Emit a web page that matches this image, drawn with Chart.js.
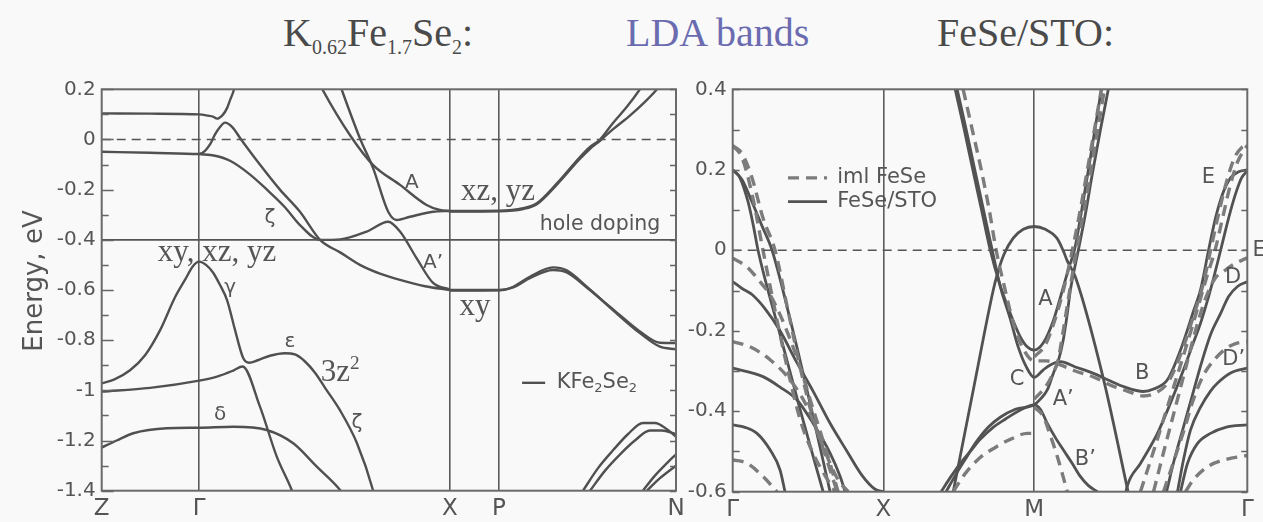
<!DOCTYPE html>
<html>
<head>
<meta charset="utf-8">
<script src="https://cdn.jsdelivr.net/npm/chart.js@4.4.1/dist/chart.umd.min.js"></script>
<style>
html,body{margin:0;padding:0;width:1263px;height:522px;overflow:hidden;background:#f9f9f9;}
.layer{position:absolute;left:0;top:0;}
.ttl{position:absolute;top:13px;font-family:"Liberation Serif","Times New Roman",serif;font-size:40px;line-height:1;color:#4a4a4a;white-space:nowrap;}
.ttl sub{font-size:0.5em;vertical-align:-0.38em;line-height:0;}
</style>
</head>
<body>
<div class="ttl" style="left:283px">K<sub>0.62</sub>Fe<sub>1.7</sub>Se<sub>2</sub>:</div>
<div class="ttl" style="left:626px;color:#6b6bb0">LDA bands</div>
<div class="ttl" style="left:937px">FeSe/STO:</div>
<canvas id="cL" class="layer" width="1263" height="522"></canvas>
<canvas id="cR" class="layer" width="1263" height="522"></canvas>
<script>
// ================= LEFT PANEL: K0.62Fe1.7Se2 (k in units of the Γ–X length) =================
const leftKPoints = [0, 0.389, 1.389, 1.585, 2.291];
const leftKLabels = ['Z', 'Γ', 'X', 'P', 'N'];
const leftETicks = [-1.4, -1.2, -1, -0.8, -0.6, -0.4, -0.2, 0, 0.2];
const leftFermi = [[0, 0], [2.291, 0]];
const leftDopingLevel = [[0, -0.4], [2.291, -0.4]];

const lTop = [[0,0.104],[0.193,0.103],[0.389,0.100],[0.424,0.095],[0.444,0.091],[0.460,0.083],[0.483,0.098],[0.500,0.125],[0.512,0.157],[0.528,0.2],[0.536,0.24]];
const lHoleA = [[0,-0.049],[0.193,-0.053],[0.389,-0.058],[0.412,-0.045],[0.432,-0.02],[0.452,0.02],[0.472,0.05],[0.492,0.067],[0.520,0.05],[0.556,0.0],[0.631,-0.1],[0.711,-0.2],[0.791,-0.288],[0.871,-0.4],[0.951,-0.45],[1.030,-0.5],[1.110,-0.535],[1.190,-0.56],[1.290,-0.585],[1.389,-0.6]];
const lZeta = [[0.389,-0.058],[0.452,-0.065],[0.512,-0.085],[0.592,-0.14],[0.659,-0.2],[0.731,-0.27],[0.791,-0.341],[0.871,-0.4],[0.951,-0.398],[1.057,-0.367],[1.143,-0.328],[1.190,-0.367],[1.256,-0.473],[1.322,-0.572],[1.389,-0.598]];
const lBandA = [[0.86,0.24],[0.878,0.204],[0.990,0.018],[1.083,-0.102],[1.190,-0.181],[1.296,-0.261],[1.349,-0.281],[1.389,-0.285]];
const lBandA2 = [[0.95,0.22],[0.957,0.2],[1.030,0.005],[1.083,-0.115],[1.143,-0.288],[1.177,-0.321],[1.230,-0.308],[1.322,-0.288],[1.389,-0.285]];
const lXzYz1 = [[1.389,-0.285],[1.585,-0.284],[1.681,-0.274],[1.736,-0.254],[1.816,-0.175],[1.908,-0.07],[1.948,-0.03],[1.988,0.0],[2.039,0.065],[2.095,0.13],[2.147,0.2],[2.16,0.22]];
const lXzYz2 = [[1.389,-0.287],[1.585,-0.286],[1.681,-0.277],[1.736,-0.258],[1.816,-0.18],[1.908,-0.077],[1.948,-0.037],[1.988,-0.005],[2.039,0.04],[2.107,0.095],[2.167,0.15],[2.215,0.2],[2.23,0.22]];
const lXy1 = [[1.389,-0.6],[1.585,-0.6],[1.642,-0.587],[1.708,-0.547],[1.800,-0.51],[1.855,-0.522],[1.935,-0.587],[2.039,-0.68],[2.147,-0.772],[2.227,-0.826],[2.291,-0.836]];
const lXy2 = [[1.389,-0.602],[1.585,-0.601],[1.642,-0.59],[1.708,-0.553],[1.800,-0.52],[1.855,-0.53],[1.935,-0.59],[2.039,-0.676],[2.147,-0.765],[2.227,-0.81],[2.291,-0.811]];
const lGamma = [[0,-0.972],[0.053,-0.955],[0.113,-0.92],[0.173,-0.86],[0.233,-0.76],[0.292,-0.63],[0.332,-0.56],[0.364,-0.505],[0.389,-0.487],[0.416,-0.50],[0.444,-0.53],[0.472,-0.58],[0.500,-0.64],[0.532,-0.76],[0.564,-0.87],[0.588,-0.89],[0.623,-0.88],[0.671,-0.862],[0.731,-0.852],[0.771,-0.857],[0.811,-0.885],[0.851,-0.93],[0.891,-0.99],[0.951,-1.08],[1.018,-1.21],[1.083,-1.4],[1.09,-1.43]];
const lBand3z2 = [[0,-1.005],[0.193,-0.99],[0.389,-0.961],[0.460,-0.945],[0.525,-0.921],[0.562,-0.905],[0.631,-1.064],[0.698,-1.263],[0.758,-1.397],[0.77,-1.43]];
const lDelta = [[0,-1.228],[0.06,-1.2],[0.126,-1.171],[0.259,-1.151],[0.389,-1.149],[0.525,-1.145],[0.658,-1.158],[0.764,-1.211],[0.858,-1.304],[0.951,-1.397],[0.96,-1.41]];
const lN1 = [[1.920,-1.4],[1.980,-1.31],[2.039,-1.24],[2.099,-1.175],[2.159,-1.13],[2.207,-1.13],[2.255,-1.155],[2.291,-1.185]];
const lN2 = [[1.948,-1.4],[2.008,-1.32],[2.068,-1.255],[2.127,-1.2],[2.187,-1.16],[2.235,-1.16],[2.291,-1.175]];
const lN3 = [[2.159,-1.4],[2.207,-1.34],[2.255,-1.29],[2.291,-1.255]];
const lN4 = [[2.175,-1.4],[2.227,-1.35],[2.291,-1.3]];

// ================= RIGHT PANEL: FeSe/STO vs iml FeSe (k in units of π/a) =================
const rightKPoints = [0, 1, 2, 3.414];
const rightKLabels = ['Γ', 'X', 'M', 'Γ'];
const rightETicks = [-0.6, -0.4, -0.2, 0, 0.2, 0.4];
const rightFermi = [[0, 0], [3.414, 0]];

// FeSe/STO (solid)
const sHole1 = [[0,0.2],[0.048,0.18],[0.102,0.12],[0.135,0.065],[0.168,0],[0.3,-0.19],[0.45,-0.4],[0.6,-0.6]];
const sHole2 = [[0,0.2],[0.062,0.175],[0.128,0.12],[0.195,0.06],[0.261,0.0],[0.38,-0.17],[0.513,-0.38],[0.646,-0.6]];
const sXyGX = [[0,-0.078],[0.062,-0.095],[0.128,-0.11],[0.214,-0.145],[0.314,-0.2],[0.427,-0.28],[0.533,-0.35],[0.646,-0.43],[0.759,-0.5],[0.859,-0.56],[0.945,-0.594],[1.0,-0.6]];
const sDeep1GX = [[0,-0.293],[0.201,-0.314],[0.314,-0.34],[0.427,-0.372],[0.533,-0.43],[0.646,-0.504],[0.713,-0.562],[0.746,-0.6]];
const sDeep2GX = [[0,-0.434],[0.082,-0.44],[0.161,-0.455],[0.248,-0.496],[0.314,-0.546],[0.347,-0.6]];
const sBandA = [[1.476,0.4],[1.536,0.3],[1.593,0.2],[1.651,0.1],[1.709,0.0],[1.768,-0.08],[1.834,-0.15],[1.901,-0.21],[1.954,-0.24],[2.0,-0.248],[2.061,-0.23],[2.127,-0.175],[2.187,-0.1],[2.233,-0.04],[2.267,0.0],[2.32,0.11],[2.373,0.23],[2.42,0.34],[2.446,0.4]];
const sBandCB = [[1.489,0.4],[1.549,0.3],[1.606,0.2],[1.664,0.1],[1.722,0.0],[1.775,-0.09],[1.841,-0.17],[1.894,-0.24],[1.948,-0.29],[2.0,-0.316],[2.061,-0.297],[2.107,-0.285],[2.174,-0.277],[2.273,-0.29],[2.393,-0.306],[2.506,-0.325],[2.594,-0.339],[2.725,-0.351],[2.792,-0.345],[2.884,-0.322],[2.971,-0.248],[3.06,-0.148],[3.104,-0.098],[3.157,0],[3.203,0.08],[3.25,0.14],[3.303,0.18],[3.356,0.195],[3.414,0.2]];
const sBandA1 = [[1.416,-0.6],[1.476,-0.56],[1.542,-0.52],[1.609,-0.48],[1.695,-0.44],[1.775,-0.415],[1.875,-0.395],[2.0,-0.384],[2.041,-0.37],[2.087,-0.347],[2.127,-0.306],[2.16,-0.275],[2.193,-0.223],[2.22,-0.157],[2.24,-0.1],[2.26,-0.06],[2.293,0.0],[2.34,0.09],[2.386,0.19],[2.44,0.3],[2.492,0.4]];
const sBandB1 = [[1.383,-0.6],[1.443,-0.565],[1.509,-0.53],[1.576,-0.5],[1.642,-0.47],[1.728,-0.44],[1.808,-0.42],[1.908,-0.397],[2.0,-0.384],[2.041,-0.395],[2.087,-0.43],[2.140,-0.465],[2.193,-0.496],[2.253,-0.53],[2.306,-0.562],[2.36,-0.585],[2.42,-0.6]];
const sBandM = [[1.463,-0.6],[1.6,-0.34],[1.728,-0.1],[1.755,-0.06],[1.80,-0.01],[1.861,0.03],[1.928,0.052],[2.0,0.059],[2.074,0.052],[2.151,0.03],[2.195,-0.003],[2.218,-0.025],[2.273,-0.066],[2.461,-0.322],[2.616,-0.588],[2.64,-0.63]];
const sHoleMG = [[2.6,-0.62],[2.616,-0.588],[2.705,-0.53],[2.818,-0.455],[2.904,-0.38],[2.991,-0.297],[3.051,-0.235],[3.104,-0.181],[3.170,-0.098],[3.237,0.0],[3.29,0.08],[3.336,0.14],[3.376,0.18],[3.414,0.197]];
const sBandD = [[2.878,-0.6],[2.93,-0.52],[2.99,-0.44],[3.05,-0.36],[3.11,-0.28],[3.17,-0.21],[3.237,-0.157],[3.29,-0.115],[3.349,-0.09],[3.414,-0.078]];
const sBandD1 = [[2.951,-0.6],[2.991,-0.52],[3.037,-0.447],[3.104,-0.39],[3.17,-0.35],[3.217,-0.33],[3.303,-0.305],[3.414,-0.293]];
const sDeepMG = [[2.971,-0.6],[3.017,-0.53],[3.084,-0.48],[3.17,-0.455],[3.27,-0.44],[3.414,-0.434]];

// iml FeSe (dashed)
const dHole1 = [[0,0.26],[0.062,0.23],[0.128,0.14],[0.201,0.0],[0.281,-0.15],[0.367,-0.3],[0.447,-0.42],[0.527,-0.5],[0.613,-0.56],[0.679,-0.6]];
const dHole2 = [[0,0.26],[0.062,0.24],[0.128,0.18],[0.201,0.08],[0.281,0.0],[0.367,-0.15],[0.447,-0.29],[0.527,-0.41],[0.613,-0.5],[0.699,-0.57],[0.766,-0.6]];
const dXyGX = [[0,-0.02],[0.093,-0.041],[0.181,-0.078],[0.248,-0.111],[0.314,-0.16],[0.380,-0.22],[0.447,-0.29],[0.513,-0.37],[0.580,-0.45],[0.646,-0.53],[0.699,-0.6]];
const dDeep1GX = [[0,-0.227],[0.115,-0.24],[0.248,-0.272],[0.380,-0.322],[0.493,-0.389],[0.580,-0.471],[0.646,-0.546],[0.693,-0.6]];
const dDeep2GX = [[0,-0.521],[0.093,-0.529],[0.201,-0.562],[0.294,-0.6]];
const dBandCB = [[1.529,0.4],[1.589,0.3],[1.649,0.2],[1.702,0.1],[1.748,0.0],[1.802,-0.09],[1.861,-0.18],[1.921,-0.24],[2.0,-0.275],[2.08,-0.275],[2.174,-0.285],[2.273,-0.3],[2.393,-0.315],[2.506,-0.335],[2.618,-0.35],[2.725,-0.362],[2.792,-0.357],[2.884,-0.33],[2.971,-0.26],[3.06,-0.16],[3.124,-0.08],[3.17,0.0],[3.223,0.09],[3.276,0.17],[3.329,0.23],[3.376,0.255],[3.414,0.261]];
const dBandA = [[2.0,-0.265],[2.074,-0.235],[2.14,-0.17],[2.2,-0.09],[2.253,0.0],[2.306,0.1],[2.353,0.2],[2.4,0.3],[2.446,0.4]];
const dBandA1 = [[2.0,-0.37],[2.074,-0.34],[2.12,-0.31],[2.16,-0.27],[2.193,-0.2],[2.227,-0.12],[2.267,-0.03],[2.306,0.05],[2.36,0.16],[2.413,0.28],[2.466,0.4]];
const dBandB1 = [[2.0,-0.39],[2.061,-0.413],[2.107,-0.46],[2.154,-0.513],[2.22,-0.6]];
const dHumpM = [[1.463,-0.6],[1.542,-0.555],[1.642,-0.515],[1.742,-0.49],[1.841,-0.47],[1.954,-0.455],[2.0,-0.455]];
const dHoleMG = [[2.705,-0.6],[2.8,-0.49],[2.9,-0.37],[3.0,-0.25],[3.08,-0.15],[3.15,-0.06],[3.2,0.0],[3.25,0.08],[3.3,0.16],[3.35,0.22],[3.414,0.261]];
const dBandD = [[2.792,-0.6],[2.86,-0.5],[2.93,-0.4],[3.0,-0.3],[3.07,-0.2],[3.137,-0.12],[3.2,-0.07],[3.256,-0.053],[3.323,-0.035],[3.414,-0.019]];
const dBandD1 = [[2.858,-0.6],[2.93,-0.52],[3.0,-0.44],[3.057,-0.37],[3.124,-0.31],[3.2,-0.27],[3.27,-0.245],[3.336,-0.232],[3.414,-0.227]];
const dDeepMG = [[3.004,-0.6],[3.057,-0.57],[3.15,-0.538],[3.27,-0.52],[3.414,-0.51]];

// ================= styling & helpers =================
const SANS = '"DejaVu Sans", Verdana, sans-serif';
const SERIF = '"Liberation Serif", "Times New Roman", serif';
const INK = '#505050';

function pts(a){ return a.map(p => ({x: p[0], y: p[1]})); }
function band(a, style){
  return Object.assign({data: pts(a), pointRadius: 0, fill: false, cubicInterpolationMode: 'monotone',
    borderColor: INK, borderWidth: 2.4, borderCapStyle: 'butt'}, style || {});
}

function drawRich(ctx, parts, x, y, size, family, align, color){
  ctx.fillStyle = color || '#555';
  ctx.textBaseline = 'middle';
  ctx.textAlign = 'left';
  const segs = parts.map(p => {
    const s = p[1] ? size * 0.62 : size;
    ctx.font = s + 'px ' + family;
    return {t: p[0], s: s, w: ctx.measureText(p[0]).width, m: p[1]};
  });
  const W = segs.reduce((a, s) => a + s.w, 0);
  let cx = align === 'center' ? x - W / 2 : (align === 'right' ? x - W : x);
  segs.forEach(s => {
    ctx.font = s.s + 'px ' + family;
    const dy = s.m === 'sub' ? size * 0.32 : (s.m === 'sup' ? -size * 0.3 : 0);
    ctx.fillText(s.t, cx, y + dy);
    cx += s.w;
  });
}

// annotation lists (label anchors are given in axis coordinates)
const leftNotes = [
  {p: [['xy, xz, yz']], k: 0.46, e: -0.452, size: 31, fam: SERIF},
  {p: [['γ']], k: 0.512, e: -0.592, size: 20, fam: SANS},
  {p: [['ζ']], k: 0.671, e: -0.313, size: 20, fam: SANS},
  {p: [['ε']], k: 0.751, e: -0.807, size: 20, fam: SANS},
  {p: [['3z'], ['2', 'sup']], k: 0.951, e: -0.93, size: 31, fam: SERIF},
  {p: [['ζ']], k: 1.018, e: -1.13, size: 20, fam: SANS},
  {p: [['δ']], k: 0.472, e: -1.098, size: 20, fam: SANS},
  {p: [['A']], k: 1.237, e: -0.173, size: 20, fam: SANS},
  {p: [['A’']], k: 1.322, e: -0.492, size: 20, fam: SANS},
  {p: [['xz, yz']], k: 1.581, e: -0.209, size: 31, fam: SERIF},
  {p: [['hole doping']], k: 1.988, e: -0.341, size: 20.5, fam: SANS},
  {p: [['xy']], k: 1.489, e: -0.668, size: 31, fam: SERIF},
  {p: [['KFe'], ['2', 'sub'], ['Se'], ['2', 'sub']], k: 1.815, e: -0.968, size: 21, fam: SANS, align: 'left'}
];
const rightNotes = [
  {p: [['iml FeSe']], k: 0.693, e: 0.18, size: 21, fam: SANS, align: 'left'},
  {p: [['FeSe/STO']], k: 0.693, e: 0.121, size: 21, fam: SANS, align: 'left'},
  {p: [['A']], k: 2.074, e: -0.123, size: 21, fam: SANS},
  {p: [['C']], k: 1.886, e: -0.322, size: 21, fam: SANS},
  {p: [['A’']], k: 2.193, e: -0.372, size: 21, fam: SANS},
  {p: [['B']], k: 2.716, e: -0.306, size: 21, fam: SANS},
  {p: [['B’']], k: 2.339, e: -0.521, size: 21, fam: SANS},
  {p: [['E']], k: 3.156, e: 0.18, size: 21, fam: SANS},
  {p: [['D']], k: 3.32, e: -0.069, size: 21, fam: SANS},
  {p: [['D’']], k: 3.324, e: -0.272, size: 21, fam: SANS},
  {p: [['E']], k: 3.448, e: 0.0, size: 21, fam: SANS, align: 'left'}
];

function decorPlugin(id, notes, tickCfg, extra){
  return {
    id: id,
    afterDatasetsDraw(chart){
      const {ctx, chartArea: a, scales: {x, y}} = chart;
      ctx.save();
      // frame
      ctx.strokeStyle = '#6a6a6a'; ctx.lineWidth = 2;
      ctx.strokeRect(a.left, a.top, a.right - a.left, a.bottom - a.top);
      // inner tick marks every 0.1 eV
      ctx.strokeStyle = '#666'; ctx.lineWidth = 1.6;
      const n0 = Math.round(y.min * 10), n1 = Math.round(y.max * 10);
      for (let n = n0; n <= n1; n++){
        const py = Math.round(y.getPixelForValue(n / 10)) + 0.5;
        const major = n % 2 === 0;
        const L = major ? tickCfg.leftMajor : tickCfg.leftMinor;
        const R = major ? tickCfg.rightMajor : tickCfg.rightMinor;
        ctx.beginPath();
        ctx.moveTo(a.left, py); ctx.lineTo(a.left + L, py);
        ctx.moveTo(a.right, py); ctx.lineTo(a.right - R, py);
        ctx.stroke();
      }
      // text annotations
      notes.forEach(nt => {
        drawRich(ctx, nt.p, x.getPixelForValue(nt.k), y.getPixelForValue(nt.e), nt.size, nt.fam, nt.align || 'center', '#555');
      });
      if (extra) extra(chart, ctx, a, x, y);
      ctx.restore();
    }
  };
}

function makeScales(kPts, kLabels, eTicks, emin, emax, yW){
  return {
    x: {
      type: 'linear', min: kPts[0], max: kPts[kPts.length - 1],
      afterBuildTicks: s => { s.ticks = kPts.map(v => ({value: v})); },
      afterFit: s => { s.height = 30; },
      ticks: {autoSkip: false, maxRotation: 0, padding: 5, color: '#555',
        font: {family: SANS, size: 23}, callback: (v, i) => kLabels[i]},
      grid: {drawTicks: false, lineWidth: 1.6,
        color: c => (c.index === 0 || c.index === kPts.length - 1) ? 'rgba(0,0,0,0)' : '#5c5c5c'},
      border: {display: false}
    },
    y: {
      type: 'linear', min: emin, max: emax,
      afterBuildTicks: s => { s.ticks = eTicks.map(v => ({value: v})); },
      afterFit: s => { s.width = yW; },
      ticks: {padding: 6, color: '#555', font: {family: SANS, size: 20},
        callback: v => (Math.abs(v) < 1e-9 ? '0' : String(Math.round(v * 10) / 10))},
      grid: {display: false, drawTicks: false},
      border: {display: false}
    }
  };
}

const commonOpts = {
  responsive: false, animation: false, devicePixelRatio: 1,
  plugins: {legend: {display: false}, tooltip: {enabled: false}, title: {display: false}},
  elements: {line: {tension: 0}}
};

// ---------------- left chart ----------------
const leftBands = [lTop, lHoleA, lZeta, lBandA, lBandA2, lXzYz1, lXzYz2, lXy1, lXy2, lGamma, lBand3z2, lDelta, lN1, lN2, lN3, lN4];
new Chart(document.getElementById('cL'), {
  type: 'line',
  data: {datasets: [
    band(leftFermi, {borderDash: [9, 6], borderWidth: 1.5, borderColor: '#555', cubicInterpolationMode: 'default'}),
    band(leftDopingLevel, {borderWidth: 1.6, borderColor: '#555', cubicInterpolationMode: 'default'})
  ].concat(leftBands.map(b => band(b)))},
  options: Object.assign({}, commonOpts, {
    layout: {padding: {left: 41.7, right: 587, top: 89.3, bottom: 1.3}},
    scales: makeScales(leftKPoints, leftKLabels, leftETicks, -1.4, 0.2, 60)
  }),
  plugins: [decorPlugin('decorL', leftNotes, {leftMajor: 12, leftMinor: 7, rightMajor: 6, rightMinor: 6},
    (chart, ctx, a, x, y) => {
      // legend line for KFe2Se2
      ctx.strokeStyle = INK; ctx.lineWidth = 2.4;
      const py = y.getPixelForValue(-0.97);
      ctx.beginPath(); ctx.moveTo(x.getPixelForValue(1.677), py); ctx.lineTo(x.getPixelForValue(1.769), py); ctx.stroke();
      // y-axis title
      ctx.save();
      ctx.translate(a.left - 66, (a.top + a.bottom) / 2 - 9);
      ctx.rotate(-Math.PI / 2);
      ctx.fillStyle = '#555'; ctx.font = '26px ' + SANS; ctx.textAlign = 'center'; ctx.textBaseline = 'middle';
      ctx.fillText('Energy, eV', 0, 0);
      ctx.restore();
    })]
});

// ---------------- right chart ----------------
const solidBands = [sHole1, sHole2, sXyGX, sDeep1GX, sDeep2GX, sBandA, sBandCB, sBandA1, sBandB1, sBandM, sHoleMG, sBandD, sBandD1, sDeepMG];
const dashedBands = [dHole1, dHole2, dXyGX, dDeep1GX, dDeep2GX, dBandCB, dBandA, dBandA1, dBandB1, dHumpM, dHoleMG, dBandD, dBandD1, dDeepMG];
const DASH = {borderDash: [11, 7], borderWidth: 3.4, borderColor: '#7c7c7c'};
const SOLID = {borderWidth: 2.8, borderColor: '#525252'};
new Chart(document.getElementById('cR'), {
  type: 'line',
  data: {datasets: [
    band(rightFermi, {borderDash: [9, 6], borderWidth: 1.5, borderColor: '#555', cubicInterpolationMode: 'default'})
  ].concat(dashedBands.map(b => band(b, DASH))).concat(solidBands.map(b => band(b, SOLID)))},
  options: Object.assign({}, commonOpts, {
    layout: {padding: {left: 677.7, right: 15.7, top: 89.3, bottom: 0.3}},
    scales: makeScales(rightKPoints, rightKLabels, rightETicks, -0.6, 0.4, 55)
  }),
  plugins: [decorPlugin('decorR', rightNotes, {leftMajor: 7, leftMinor: 7, rightMajor: 6, rightMinor: 6},
    (chart, ctx, a, x, y) => {
      // legend samples
      const x0 = x.getPixelForValue(0.367), x1 = x.getPixelForValue(0.626);
      ctx.strokeStyle = DASH.borderColor; ctx.lineWidth = DASH.borderWidth; ctx.setLineDash(DASH.borderDash);
      let py = y.getPixelForValue(0.18);
      ctx.beginPath(); ctx.moveTo(x0, py); ctx.lineTo(x1, py); ctx.stroke();
      ctx.setLineDash([]);
      ctx.strokeStyle = SOLID.borderColor; ctx.lineWidth = SOLID.borderWidth;
      py = y.getPixelForValue(0.121);
      ctx.beginPath(); ctx.moveTo(x0, py); ctx.lineTo(x1, py); ctx.stroke();
    })]
});
</script>
</body>
</html>
